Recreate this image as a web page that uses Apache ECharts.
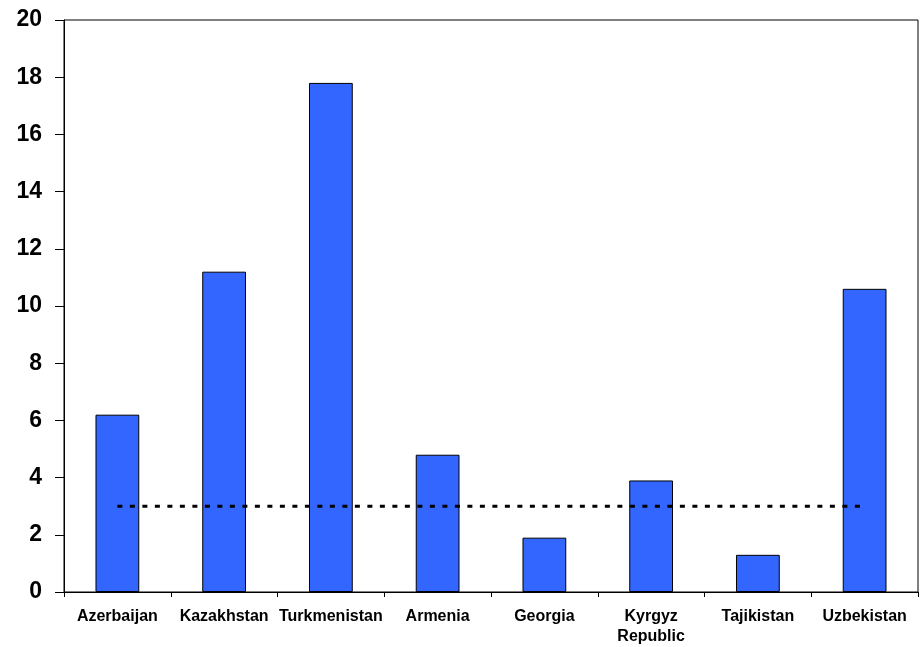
<!DOCTYPE html>
<html>
<head>
<meta charset="utf-8">
<script src="https://cdn.jsdelivr.net/npm/echarts@6/dist/echarts.min.js"></script>
<style>
  html, body { margin: 0; padding: 0; background: #fff; }
  #chart { width: 923px; height: 647px; }
</style>
</head>
<body>
<div id="chart"></div>
<script>
// Countries along the horizontal axis
const countries = ['Azerbaijan', 'Kazakhstan', 'Turkmenistan', 'Armenia', 'Georgia', 'Kyrgyz\nRepublic', 'Tajikistan', 'Uzbekistan'];
// Bar values per country
const values = [6.2, 11.2, 17.8, 4.8, 1.9, 3.9, 1.3, 10.6];
// Reference level drawn as a dotted line across all countries
const reference = [3, 3, 3, 3, 3, 3, 3, 3];
// Value axis range
const yMin = 0, yMax = 20, yStep = 2;

const chart = echarts.init(document.getElementById('chart'));
chart.setOption({
  animation: false,
  backgroundColor: '#fff',
  grid: {
    left: 64, right: 5, top: 20, bottom: 55,
    show: true, borderColor: '#000', borderWidth: 1, backgroundColor: 'transparent'
  },
  xAxis: {
    type: 'category',
    data: countries,
    axisLine: { lineStyle: { color: '#000', width: 1 } },
    axisTick: { show: true, length: 5, lineStyle: { color: '#000' } },
    axisLabel: {
      color: '#000', fontFamily: 'Liberation Sans, Arial, sans-serif',
      fontWeight: 'bold', fontSize: 16, margin: 15, lineHeight: 20, interval: 0
    },
    splitLine: { show: false }
  },
  yAxis: {
    type: 'value',
    min: yMin, max: yMax, interval: yStep,
    axisLine: { show: true, lineStyle: { color: '#000', width: 1 } },
    axisTick: { show: true, length: 9, lineStyle: { color: '#000' } },
    axisLabel: {
      color: '#000', fontFamily: 'Liberation Sans, Arial, sans-serif',
      fontWeight: 'bold', fontSize: 23, margin: 22
    },
    splitLine: { show: false }
  },
  series: [
    {
      type: 'bar',
      data: values,
      barWidth: '41%',
      itemStyle: { color: '#3366FF', borderColor: '#000', borderWidth: 1 }
    },
    {
      type: 'line',
      data: reference,
      symbol: 'none',
      silent: true,
      lineStyle: { color: '#000', width: 3, type: [5, 7.5] },
      z: 5
    }
  ]
});
</script>
</body>
</html>
